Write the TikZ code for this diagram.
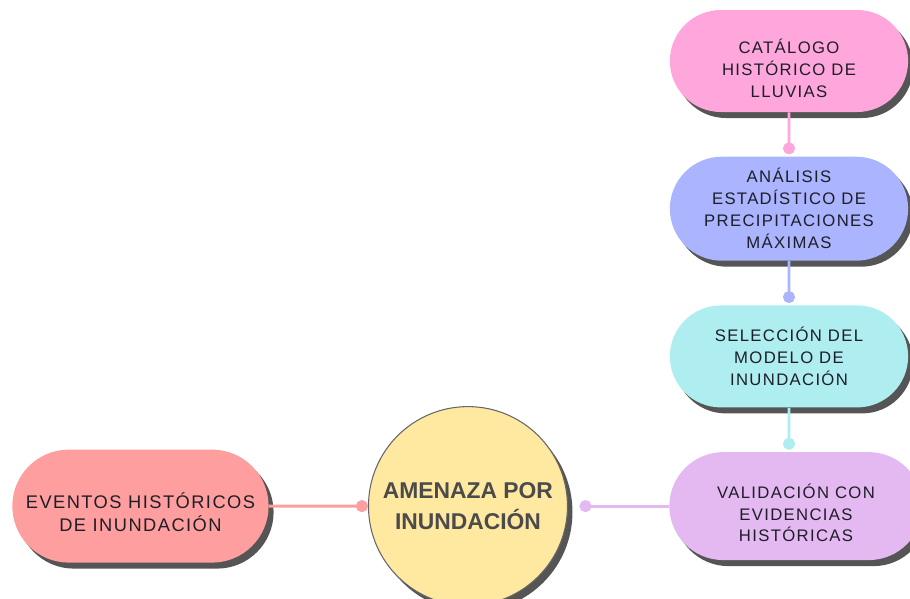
\documentclass[tikz,border=0pt]{standalone}
\usepackage{fontspec}
\setmainfont{Liberation Sans}
\newfontfamily\boxfont{Liberation Sans}[LetterSpace=8]
\usetikzlibrary{shapes.misc, shapes.geometric, arrows.meta, positioning, shadows}
\definecolor{rainpink}{RGB}{255, 167, 220}
\definecolor{statblue}{RGB}{170, 180, 255}
\definecolor{modelcyan}{RGB}{174, 238, 240}
\definecolor{checkpurple}{RGB}{228, 184, 240}
\definecolor{eventred}{RGB}{255, 158, 158}
\definecolor{hubyellow}{RGB}{255, 233, 160}
\definecolor{shadowgray}{RGB}{85, 85, 85}
\definecolor{inkdark}{RGB}{30, 30, 40}
\definecolor{hubink}{RGB}{75, 75, 75}
\tikzstyle{stage} = [rounded rectangle, minimum width=5cm, minimum height=2.04cm,
                     align=center, text=inkdark, font=\boxfont\fontsize{9.5}{12.5}\selectfont,
                     drop shadow={shadow xshift=0.1cm, shadow yshift=-0.12cm,
                                  fill=shadowgray, opacity=1}]
\tikzstyle{hub}   = [circle, minimum size=3.98cm, draw=black!60, line width=0.6pt,
                     fill=hubyellow, align=center, text=hubink,
                     font=\bfseries\fontsize{13}{17.6}\selectfont,
                     drop shadow={shadow xshift=0.1cm, shadow yshift=-0.12cm,
                                  fill=shadowgray, opacity=1}]
\tikzstyle{link}  = [line width=1.6pt, -{Circle[length=0.24cm]}]

\begin{document}
\begin{tikzpicture}[node distance=0.88cm]
  \useasboundingbox (0,0) rectangle (18.2,-11.98);

  \node (catalogo) [stage, fill=rainpink, text height=42pt] at (15.78,-1.22) {CATÁLOGO\\HISTÓRICO DE\\LLUVIAS};
  \node (analisis) [stage, fill=statblue, below=of catalogo, minimum height=2.08cm]
        {ANÁLISIS\\ESTADÍSTICO DE\\PRECIPITACIONES\\MÁXIMAS};
  \node (seleccion) [stage, fill=modelcyan, below=of analisis] {SELECCIÓN DEL\\MODELO DE\\INUNDACIÓN};
  \node (validacion) [stage, fill=checkpurple, below=of seleccion, xshift=0.14cm,
                      minimum width=5.3cm, minimum height=2.16cm, text height=40.9pt]
        {VALIDACIÓN CON\\EVIDENCIAS\\HISTÓRICAS};
  \node (amenaza) [hub, left=2.02cm of validacion] {AMENAZA POR\\INUNDACIÓN};
  \node (eventos) [stage, fill=eventred, left=1.98cm of amenaza, minimum width=5.36cm,
                   minimum height=2.26cm, font=\boxfont\fontsize{10.4}{13}\selectfont, text height=28.7pt]
        {EVENTOS HISTÓRICOS\\DE INUNDACIÓN};

  \draw [link, rainpink, shorten >=0.04cm] (catalogo) -- (analisis);
  \draw [link, statblue, shorten >=0.04cm] (analisis) -- (seleccion);
  \draw [link, modelcyan, shorten >=0.04cm] (seleccion) -- (seleccion |- validacion.north);
  \draw [link, checkpurple, shorten >=0.23cm] (validacion) -- (amenaza);
  \draw [link, eventred] (eventos) -- (amenaza);
\end{tikzpicture}
\end{document}
